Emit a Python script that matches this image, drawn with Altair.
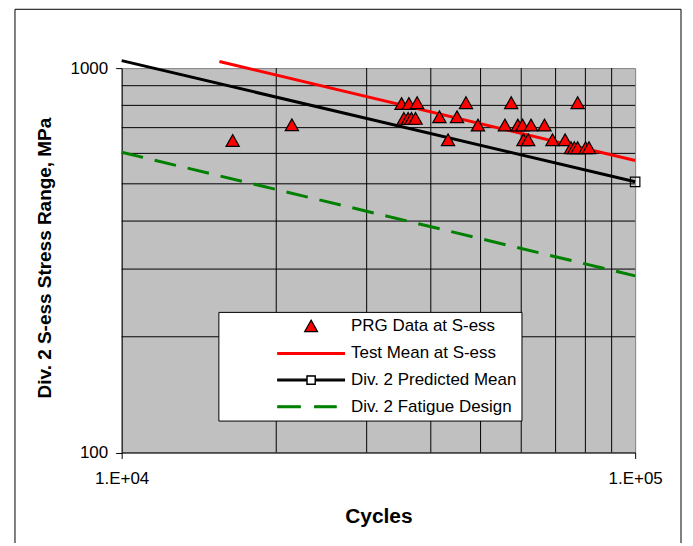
import altair as alt
import pandas as pd

FONT = "Liberation Sans"

series_names = ["PRG Data at S-ess", "Test Mean at S-ess",
                "Div. 2 Predicted Mean", "Div. 2 Fatigue Design"]

prg_cycles = [16450, 21450, 35080, 36250, 37620, 46830, 57370, 77270,
              35450, 36130, 36680, 37350, 41570, 44980,
              49410, 55760, 59090, 60340, 62680, 66590,
              43210, 60610, 61900, 69020, 73030,
              75010, 76130, 77270, 80090, 81310]
prg_stress = [648, 712, 809, 809, 813, 813, 813, 813,
              740, 740, 740, 740, 747, 747,
              711, 711, 711, 711, 711, 711,
              651, 651, 651, 651, 651,
              621, 621, 621, 621, 621]

test_mean_cycles = [15500, 100000]
test_mean_stress = [1040, 575]
pred_mean_cycles = [10000, 100000]
pred_mean_stress = [1046, 506]
design_cycles = [10000, 100000]
design_stress = [604, 288]

x_grid = [20000, 30000, 40000, 50000, 60000, 70000, 80000, 90000]
y_grid = [200, 300, 400, 500, 600, 700, 800, 900]
x_ticks = [10000, 100000]
x_tick_labels = ["1.E+04", "1.E+05"]
y_ticks = [100, 1000]

# legend symbol shapes (svg paths), fills and strokes
tri = "M0,-0.72L0.81,0.72L-0.81,0.72Z"
red_sym = "M-4.18,-0.11H4.18V0.11H-4.18Z"
black_sym = ("M-4.18,-0.11H-0.53V0.11H-4.18Z M0.53,-0.11H4.18V0.11H0.53Z "
             "M-0.53,-0.53H0.53V0.53H-0.53Z M-0.5,-0.5V0.5H0.5V-0.5Z")
green_sym = "M-4.18,-0.11H-1.36V0.11H-4.18Z M0.45,-0.11H3.14V0.11H0.45Z"
shape_range = [tri, red_sym, black_sym, green_sym]
fill_range = ["#ff0000", "#ff0000", "#000000", "#008000"]
stroke_range = ["#000000", "#ff0000", "#000000", "#008000"]

label_expr = " : ".join(
    f"datum.value == {v} ? '{t}'" for v, t in zip(x_ticks, x_tick_labels)
) + " : ''"

xs = alt.Scale(type="log", domain=[10000, 100000], nice=False)
ys = alt.Scale(type="log", domain=[100, 1000], nice=False)

xaxis = alt.Axis(values=x_ticks, labelExpr=label_expr, grid=False, tickSize=6,
                 tickColor="black", domainColor="black", labelFont=FONT,
                 labelFontSize=17, labelColor="black", labelPadding=12,
                 labelFlush=False, titleFont=FONT, titleFontSize=21,
                 titleFontWeight="bold", titleColor="black", titleY=64,
                 titleBaseline="middle")
yaxis = alt.Axis(values=y_ticks, format="d", grid=False, tickSize=6,
                 tickColor="black", domainColor="black", labelFont=FONT,
                 labelFontSize=17, labelColor="black", labelPadding=8,
                 labelFlush=False, titleFont=FONT, titleFontSize=19,
                 titleFontWeight="bold", titleColor="black", titleX=-77,
                 titleY=190, titleAngle=270, titleBaseline="middle",
                 titleAlign="center")


def X(f):
    return alt.X(f"{f}:Q", scale=xs, axis=xaxis, title="Cycles")


def Y(f):
    return alt.Y(f"{f}:Q", scale=ys, axis=yaxis,
                 title="Div. 2 S-ess Stress Range, MPa")


frame = alt.Chart().mark_rect(fill="transparent", stroke="black",
                              strokeWidth=1).encode(
    x=alt.value(-107), x2=alt.value(561), y=alt.value(-59), y2=alt.value(560))

gx = alt.Chart(pd.DataFrame({"g": x_grid})).mark_rule(
    color="#000000", strokeWidth=1).encode(x=X("g"))
gy = alt.Chart(pd.DataFrame({"g": y_grid})).mark_rule(
    color="#000000", strokeWidth=1).encode(y=Y("g"))

design = alt.Chart(pd.DataFrame({"c": design_cycles, "s": design_stress})).mark_line(
    color="#008000", strokeWidth=3, strokeDash=[22, 12]).encode(x=X("c"), y=Y("s"))
pred = alt.Chart(pd.DataFrame({"c": pred_mean_cycles, "s": pred_mean_stress})).mark_line(
    color="#000000", strokeWidth=3).encode(x=X("c"), y=Y("s"))
test = alt.Chart(pd.DataFrame({"c": test_mean_cycles, "s": test_mean_stress})).mark_line(
    color="#ff0000", strokeWidth=3).encode(x=X("c"), y=Y("s"))
pred_end = alt.Chart(pd.DataFrame({"c": pred_mean_cycles[-1:], "s": pred_mean_stress[-1:]})).mark_point(
    shape="square", filled=False, stroke="black", strokeWidth=1.2, size=90,
    opacity=1).encode(x=X("c"), y=Y("s"))

legend = alt.Legend(title=None, orient="none", legendX=97, legendY=244.5,
                    fillColor="white", strokeColor="black", padding=5,
                    labelFont=FONT, labelFontSize=17, labelColor="black",
                    labelLimit=400, symbolSize=256, symbolStrokeWidth=1.2,
                    symbolOffset=79, labelOffset=31, rowPadding=9.7)

pts = pd.DataFrame({"c": prg_cycles, "s": prg_stress, "series": series_names[0]})
points = alt.Chart(pts).mark_point(filled=True, opacity=1, size=270,
                                   strokeWidth=1.2).encode(
    x=X("c"), y=Y("s"),
    shape=alt.Shape("series:N", scale=alt.Scale(domain=series_names, range=shape_range), legend=legend),
    fill=alt.Fill("series:N", scale=alt.Scale(domain=series_names, range=fill_range), legend=legend),
    stroke=alt.Stroke("series:N", scale=alt.Scale(domain=series_names, range=stroke_range), legend=legend),
)

chart = alt.layer(frame, gx, gy, design, pred, test, points, pred_end).properties(
    width=515, height=385.5,
    background="white",
    padding={"left": 114, "top": 59.5, "right": 50, "bottom": 90},
    autosize=alt.AutoSizeParams(type="none"),
).configure_view(fill="#c0c0c0", stroke="#808080")

chart.save("out.html", embed_options={"renderer": "svg", "actions": False})
